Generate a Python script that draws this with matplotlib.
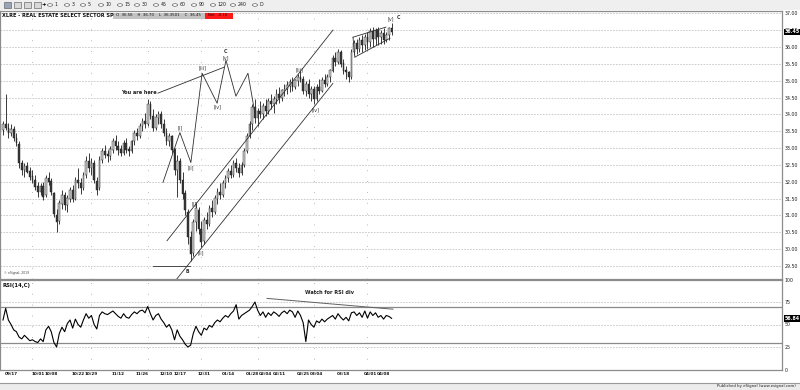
import matplotlib
matplotlib.use('Agg')
import matplotlib.pyplot as plt
from matplotlib.patches import Rectangle, Circle
import numpy as np

W, H = 800, 390

# ---------------- data (daily bars, index = trading day) ----------------
opens = [33.55,33.70,33.60,33.45,33.55,33.30,33.10,32.55,32.35,32.45,
         32.30,32.15,32.05,31.85,31.70,31.85,31.60,32.10,32.00,31.65,
         31.00,30.85,31.35,31.60,31.30,31.50,31.75,31.50,32.05,31.95,
         31.80,32.20,32.60,32.40,32.55,32.00,31.80,32.65,32.90,32.80,
         32.75,32.95,33.20,33.05,32.95,32.85,33.15,32.95,32.90,33.20,
         33.45,33.35,33.65,33.80,33.70,34.30,33.95,33.60,33.90,34.00,
         33.70,33.45,33.20,33.35,32.95,32.35,32.60,32.05,31.65,31.10,
         30.35,29.90,30.80,31.15,30.60,30.25,30.85,30.75,31.20,31.10,
         31.50,31.70,31.60,31.95,32.10,32.30,32.20,32.55,32.40,32.25,
         32.50,32.90,33.35,33.70,34.20,33.90,34.10,34.00,34.25,34.10,
         34.40,34.30,34.45,34.60,34.50,34.70,34.75,34.85,34.95,34.80,
         35.00,35.10,35.05,34.70,34.90,34.60,34.75,34.45,34.80,34.70,
         35.00,34.90,35.10,35.30,35.65,35.55,35.85,35.50,35.30,35.25,
         35.10,35.85,36.10,35.95,36.20,36.05,36.30,36.15,36.45,36.25,
         36.50,36.30,36.40,36.20,36.35,36.56]
highs = [33.80,34.60,33.75,33.70,33.65,33.45,33.20,32.65,32.55,32.60,
         32.45,32.35,32.20,32.00,31.95,32.00,32.20,32.30,32.10,31.70,
         31.20,31.45,31.75,31.70,31.60,31.85,31.90,32.15,32.40,32.10,
         32.30,32.75,32.85,32.70,32.65,32.15,32.75,33.00,33.10,32.95,
         33.05,33.30,33.40,33.20,33.10,33.25,33.30,33.05,33.25,33.55,
         33.60,33.75,33.90,34.05,34.45,34.40,34.15,34.00,34.10,34.10,
         33.85,33.60,33.45,33.40,33.00,32.80,32.70,32.30,31.75,31.20,
         30.55,30.90,31.40,31.25,30.85,30.95,31.10,31.30,31.45,31.60,
         31.80,31.95,32.05,32.20,32.40,32.50,32.65,32.70,32.55,32.60,
         33.00,33.45,33.80,34.30,34.45,34.20,34.40,34.35,34.45,34.50,
         34.60,34.55,34.75,34.80,34.75,34.90,35.00,35.05,35.10,35.05,
         35.20,35.30,35.15,35.00,35.05,34.85,34.85,34.90,35.05,35.10,
         35.20,35.20,35.35,35.75,35.85,35.95,35.90,35.65,35.45,35.30,
         35.95,36.20,36.25,36.30,36.35,36.40,36.45,36.55,36.60,36.55,
         36.60,36.50,36.55,36.45,36.60,36.70]
lows = [33.40,33.55,33.30,33.35,33.20,33.05,32.40,32.20,32.15,32.25,
        32.05,31.95,31.75,31.55,31.60,31.45,31.55,31.90,31.60,30.95,
        30.50,30.75,31.20,31.15,31.10,31.40,31.40,31.45,31.80,31.65,
        31.75,32.10,32.30,32.20,31.95,31.60,31.75,32.55,32.70,32.60,
        32.65,32.85,32.95,32.80,32.75,32.80,32.85,32.75,32.85,33.10,
        33.25,33.30,33.50,33.60,33.65,33.85,33.50,33.55,33.70,33.60,
        33.35,33.10,33.05,32.85,32.20,31.55,31.95,31.50,31.00,30.15,
        29.65,29.80,30.55,30.45,30.05,30.15,30.60,30.70,30.95,31.05,
        31.35,31.50,31.55,31.80,32.00,32.10,32.15,32.30,32.15,32.20,
        32.45,32.85,33.30,33.55,33.75,33.65,33.90,33.85,33.95,34.00,
        34.15,34.05,34.30,34.35,34.40,34.55,34.60,34.65,34.70,34.75,
        34.85,34.95,34.60,34.55,34.50,34.40,34.30,34.40,34.60,34.65,
        34.80,34.85,34.95,35.25,35.45,35.50,35.40,35.20,35.05,34.95,
        35.05,35.75,35.80,35.85,35.85,35.90,35.95,36.00,36.00,36.05,
        36.05,36.10,36.10,36.15,36.20,36.35]
closes = [33.70,33.60,33.45,33.55,33.30,33.15,32.55,32.35,32.45,32.30,
          32.15,32.05,31.85,31.70,31.85,31.55,32.10,32.00,31.70,31.05,
          30.80,31.35,31.60,31.30,31.50,31.75,31.50,32.05,31.95,31.80,
          32.20,32.60,32.40,32.55,32.05,31.75,32.65,32.90,32.80,32.75,
          32.95,33.20,33.05,32.95,32.85,33.15,32.95,32.90,33.20,33.45,
          33.35,33.65,33.80,33.70,34.30,33.95,33.60,33.90,34.00,33.70,
          33.45,33.20,33.35,32.95,32.35,32.60,32.05,31.65,31.15,30.35,
          29.85,30.80,31.20,30.60,30.20,30.85,30.75,31.20,31.10,31.50,
          31.70,31.60,31.95,32.10,32.30,32.20,32.55,32.40,32.25,32.50,
          32.90,33.35,33.70,34.20,33.90,34.10,34.00,34.25,34.10,34.40,
          34.30,34.45,34.60,34.50,34.70,34.75,34.85,34.95,34.80,35.00,
          35.10,35.05,34.70,34.90,34.60,34.75,34.45,34.80,34.70,35.00,
          34.90,35.10,35.30,35.65,35.55,35.85,35.50,35.30,35.25,35.10,
          35.85,36.10,35.95,36.20,36.05,36.30,36.15,36.45,36.25,36.50,
          36.30,36.40,36.20,36.35,36.55,36.45]
rsi = [55,68,55,50,44,42,36,34,38,35,
       32,33,31,30,34,31,44,48,42,30,
       25,40,47,42,51,55,46,56,50,47,
       55,62,57,60,50,45,60,64,62,61,
       63,65,62,59,57,62,58,57,61,64,
       62,65,66,63,70,62,55,60,62,56,
       52,47,50,44,33,44,37,33,28,25,
       27,40,48,42,38,46,44,49,47,52,
       55,53,57,60,58,62,65,72,56,60,
       62,64,66,70,75,66,60,64,58,63,
       60,64,62,59,63,65,62,66,64,58,
       65,60,52,31,55,50,47,54,52,56,
       53,56,58,60,56,62,58,55,58,54,
       63,64,60,63,58,65,57,64,60,63,
       58,60,56,60,59,56.84]

tick_idx = [3,13,18,28,33,43,52,61,66,75,84,93,98,103,112,117,127,137,142]
tick_lbl = ['09/17','10/01','10/08','10/22','10/29','11/12','11/26','12/10','12/17',
            '12/31','01/14','01/28','02/04','02/11','02/25','03/04','03/18','04/01','04/08']
price_levels = [29.5,30.0,30.5,31.0,31.5,32.0,32.5,33.0,33.5,34.0,34.5,35.0,35.5,36.0,36.5,37.0]
rsi_levels = [100,75,50,25,0]
month_grid = [11,33,54,74,95,116,136]

# annotation geometry (bar index, price)
zig_i = [59.7,66.0,70.1,74.3,79.9,83.2,86.9,91.4,94.0]
zig_p = [31.98,33.46,32.57,35.22,34.33,35.61,34.54,35.22,34.03]
here_i = [57.8,82.5]
here_p = [34.63,35.40]
chan_up_i = [61.2,123.1]; chan_up_p = [30.25,36.50]
chan_lo_i = [64.9,123.1]; chan_lo_p = [29.12,34.92]
wedge_up_i = [130.6,142.9]; wedge_up_p = [36.29,36.59]
wedge_lo_i = [131.3,144.4]; wedge_lo_p = [35.70,36.26]
base_i = [56,69.8]; base_p = [29.5,29.5]
wave_labels = [('[i]',66.0,33.61),('[ii]',70.1,32.42),('[iii]',74.3,35.37),('[iv]',79.9,34.21),
               ('[v]',83.2,35.67),('C',83.2,35.87),('[i]',71.3,31.36),('[ii]',73.9,29.88),
               ('B',69.0,29.35),('[iii]',110.8,35.31),('[iv]',116.8,34.14),('[v]',144.8,36.84),
               ('C',147.6,36.87)]
rsi_div_i = [98.5,145.5]; rsi_div_v = [79.0,67.0]

# ---------------- figure ----------------
plt.rcParams['font.family'] = ['DejaVu Sans']
fig = plt.figure(figsize=(W/100, H/100), dpi=100)
fig.patch.set_facecolor('white')

def fx(x): return x / W
def fy(y): return 1 - y / H

x_left = (0 - 3) / 2.68
x_right = (782 - 3) / 2.68

# toolbar
fig.patches.append(Rectangle((0, fy(10)), 1, 10/H, transform=fig.transFigure,
                             facecolor='#efefef', edgecolor='none', zorder=0))
for k, x in enumerate([4, 14, 24, 34]):
    fig.patches.append(Rectangle((fx(x), fy(8)), 7/W, 6/H, transform=fig.transFigure,
                                 facecolor='#9aa6b8' if k == 0 else '#d8d8d8',
                                 edgecolor='#505050', lw=0.4))
fig.text(fx(44), fy(5), '+', fontsize=4, fontweight='bold', va='center', ha='center')
opt_x = [50, 67, 83, 101, 120, 137, 156, 175, 194, 213, 233, 255]
opt_t = ['1', '3', '5', '10', '15', '30', '45', '60', '90', '120', '240', 'D']
for x, t in zip(opt_x, opt_t):
    fig.patches.append(Circle((fx(x), fy(5)), 2.6/W, transform=fig.transFigure,
                              facecolor='white', edgecolor='#404040', lw=0.4))
    fig.text(fx(x + 4.5), fy(5), t, fontsize=3.4, va='center', ha='left', color='#202020')

# ---------------- price panel ----------------
ax = fig.add_axes([0, fy(279), 782/W, (279 - 11)/H])
ax.set_xlim(x_left, x_right)
ax.set_ylim(29.114, 37.068)
for lv in price_levels:
    ax.axhline(lv, color='#c4c4c4', lw=0.6, ls=(0, (2, 1.5)), zorder=0)
for g in month_grid:
    ax.axvline(g, color='#a0a0a0', lw=0.6, ls=(0, (1, 12)), zorder=0)

idx = np.arange(len(closes))
o = np.array(opens); h = np.array(highs); l = np.array(lows); c = np.array(closes)
ax.vlines(idx, l, h, color='#1a1a1a', lw=0.6, zorder=2)
up = c >= o
ax.bar(idx, np.abs(c - o) + 0.01, width=0.62, bottom=np.minimum(o, c),
       color=np.where(up, '#cfcfcf', '#3a3a3a'), edgecolor='#1a1a1a', lw=0.3, zorder=3)

lk = dict(color='#303030', lw=0.6, zorder=4)
ax.plot(zig_i, zig_p, **lk)
ax.plot(here_i, here_p, **lk)
ax.plot(chan_up_i, chan_up_p, **lk)
ax.plot(chan_lo_i, chan_lo_p, **lk)
ax.plot(wedge_up_i, wedge_up_p, **lk)
ax.plot(wedge_lo_i, wedge_lo_p, **lk)
ax.plot([wedge_up_i[0], wedge_lo_i[0]], [wedge_up_p[0], wedge_lo_p[0]], **lk)
ax.plot(base_i, base_p, **lk)
ax.text(57.3, 34.64, 'You are here', fontsize=3.6, ha='right', va='center',
        color='#202020', fontweight='bold', zorder=5)
for t, i, p in wave_labels:
    ax.text(i, p, t, fontsize=3.4, ha='center', va='center', color='#303030', zorder=5,
            fontweight='bold' if t in ('B', 'C') else 'normal')
ax.text(0.5, 29.3, '\u00a9 eSignal, 2019', fontsize=2.2, color='#404040', va='center')

ax.yaxis.tick_right()
ax.set_yticks(price_levels)
ax.set_yticklabels(['%.2f' % v for v in price_levels])
ax.tick_params(axis='y', length=0, pad=2, labelsize=3.4, labelcolor='#202020')
ax.set_xticks([])
for s in ax.spines.values():
    s.set_color('#8c8c8c'); s.set_linewidth(0.9)
ax.text(1.003, closes[-1], '%.2f' % closes[-1], transform=ax.get_yaxis_transform(),
        fontsize=3.4, color='white', fontweight='bold', va='center', ha='left', zorder=10,
        bbox=dict(boxstyle='square,pad=0.15', fc='black', ec='none'), clip_on=False)

# title row
fig.text(fx(2), fy(15.5), 'XLRE - REAL ESTATE SELECT SECTOR SP', fontsize=3.6,
         fontweight='bold', va='center', ha='left', color='#101010')
fig.patches.append(Rectangle((fx(113), fy(18.5)), 92/W, 6/H, transform=fig.transFigure,
                             facecolor='#c3c3c3', edgecolor='none'))
fig.text(fx(116), fy(15.5), 'O  36.56    H  36.70    L  36.3501    C  36.45', fontsize=2.8,
         va='center', ha='left', color='#101010')
fig.patches.append(Rectangle((fx(205), fy(18.5)), 28/W, 6/H, transform=fig.transFigure,
                             facecolor='#ff1a1a', edgecolor='none'))
fig.text(fx(208), fy(15.5), 'Net  -0.10', fontsize=2.8, va='center', ha='left', color='#300000')

# ---------------- RSI panel ----------------
ar = fig.add_axes([0, fy(369.5), 782/W, 90/H])
ar.set_xlim(x_left, x_right)
ar.set_ylim(0, 100)
for lv in [75, 50, 25]:
    ar.axhline(lv, color='#c4c4c4', lw=0.6, ls=(0, (2, 1.5)), zorder=0)
for lv in [70, 30]:
    ar.axhline(lv, color='#8a8a8a', lw=0.9, zorder=1)
for g in month_grid:
    ar.axvline(g, color='#a0a0a0', lw=0.6, ls=(0, (1, 12)), zorder=0)
ar.plot(idx, rsi, color='black', lw=0.8, zorder=3)
ar.plot(rsi_div_i, rsi_div_v, color='#606060', lw=0.7, zorder=2)
ar.text(112.5, 86, 'Watch for RSI div', fontsize=3.6, fontweight='bold',
        color='#202020', ha='left', va='center')
ar.text(0.003, 0.93, 'RSI(14,C)', transform=ar.transAxes, fontsize=3.8,
        fontweight='bold', va='center', ha='left', color='#101010')
ar.yaxis.tick_right()
ar.set_yticks(rsi_levels)
ar.set_yticklabels([str(v) for v in rsi_levels])
ar.tick_params(axis='y', length=0, pad=2, labelsize=3.4, labelcolor='#202020')
ar.set_xticks(tick_idx)
ar.set_xticklabels(tick_lbl)
ar.tick_params(axis='x', length=0, pad=1.5, labelsize=3.0, labelcolor='#101010')
for lab in ar.get_xticklabels():
    lab.set_fontweight('bold')
for s in ar.spines.values():
    s.set_color('#8c8c8c'); s.set_linewidth(0.9)
ar.text(1.003, rsi[-1], '%.2f' % rsi[-1], transform=ar.get_yaxis_transform(),
        fontsize=3.4, color='white', fontweight='bold', va='center', ha='left', zorder=10,
        bbox=dict(boxstyle='square,pad=0.15', fc='black', ec='none'), clip_on=False)

# status bar
fig.patches.append(Rectangle((0, 0), 1, 7/H, transform=fig.transFigure,
                             facecolor='#ececec', edgecolor='none'))
fig.lines.append(plt.Line2D([0, 1], [fy(383), fy(383)], transform=fig.transFigure,
                            color='#9a9a9a', lw=0.8))
fig.text(fx(796), fy(386.5), 'Published by eSignal (www.esignal.com)', fontsize=2.8,
         ha='right', va='center', color='#202020')

fig.savefig('out.png', dpi=100)
